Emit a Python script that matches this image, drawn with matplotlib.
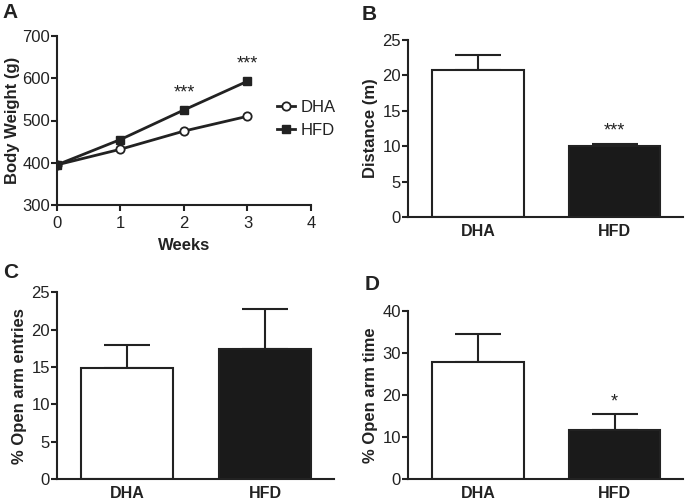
import matplotlib
matplotlib.use("Agg")
import matplotlib.pyplot as plt
import numpy as np

plt.rcParams['font.family'] = ['Liberation Sans', 'DejaVu Sans']

# Panel A data
weeks = [0, 1, 2, 3]
dha_weight = [395, 432, 475, 510]
hfd_weight = [395, 455, 525, 593]
sig_weeks = [2, 3]
sig_labels_a = ["***", "***"]

groups = ["DHA", "HFD"]
# Panel B
dist_mean = [20.7, 10.0]
dist_err = [2.2, 0.3]
dist_sig = ["", "***"]
# Panel C
entries_mean = [14.8, 17.4]
entries_err = [3.2, 5.4]
entries_sig = ["", ""]
# Panel D
time_mean = [27.9, 11.6]
time_err = [6.6, 3.8]
time_sig = ["", "*"]

LC = "#222222"
BARC = "#1a1a1a"
LW = 1.5

fig = plt.figure(figsize=(6.85, 5.0), dpi=100)

def style(ax):
    for s in ["top", "right"]:
        ax.spines[s].set_visible(False)
    for s in ["left", "bottom"]:
        ax.spines[s].set_linewidth(LW)
        ax.spines[s].set_color(LC)
    ax.tick_params(axis="both", direction="out", length=4, width=LW, color=LC,
                   labelsize=12, labelcolor=LC, pad=1)

# Panel A
axA = fig.add_axes([0.0832, 0.59, 0.3708, 0.338])
style(axA)
axA.plot(weeks, dha_weight, color=LC, lw=2, marker="o", mfc="white", mec=LC,
         mew=1.3, ms=6, label="DHA", zorder=3)
axA.plot(weeks, hfd_weight, color=LC, lw=2, marker="s", mfc=LC, mec=LC,
         ms=5.5, label="HFD", zorder=3)
axA.set_xlim(0, 4)
axA.set_ylim(300, 700)
axA.set_xticks([0, 1, 2, 3, 4])
axA.set_yticks([300, 400, 500, 600, 700])
axA.tick_params(axis="x", pad=4)
axA.set_xlabel("Weeks", fontsize=12, fontweight="bold", color=LC, labelpad=5)
axA.set_ylabel("Body Weight (g)", fontsize=12, fontweight="bold", color=LC, labelpad=2)
for w, lab in zip(sig_weeks, sig_labels_a):
    axA.annotate(lab, (w, hfd_weight[w]), xytext=(0, 6), textcoords="offset points",
                 ha="center", va="bottom", fontsize=13, color=LC)
leg = axA.legend(loc="center left", bbox_to_anchor=(0.84, 0.51), frameon=False,
                 handlelength=1.1, handletextpad=0.3, fontsize=12,
                 labelspacing=0.45, borderaxespad=0)
for t in leg.get_texts():
    t.set_color(LC)

def bar_panel(rect, means, errs, sigs, ymax, yticks, ylabel):
    ax = fig.add_axes(rect)
    style(ax)
    x = np.arange(len(groups))
    ax.bar(x, means, width=0.67, color=["white", BARC], edgecolor=LC,
           linewidth=LW, zorder=2)
    ax.errorbar(x, means, yerr=[[0] * len(errs), errs], fmt="none",
                ecolor=LC, elinewidth=LW, capsize=16.5, capthick=LW, zorder=1)
    for xi, m, e, s in zip(x, means, errs, sigs):
        if s:
            ax.annotate(s, (xi, m + e), xytext=(0, 3), textcoords="offset points",
                        ha="center", va="bottom", fontsize=13, color=LC)
    ax.set_xlim(-0.51, 1.5)
    ax.set_ylim(0, ymax)
    ax.set_yticks(yticks)
    ax.set_xticks(x)
    ax.set_xticklabels(groups, fontweight="bold", fontsize=11.5)
    ax.tick_params(axis="x", length=0, pad=5)
    ax.set_ylabel(ylabel, fontsize=12, fontweight="bold", color=LC, labelpad=3)
    return ax

bar_panel([0.5956, 0.566, 0.4014, 0.354], dist_mean, dist_err, dist_sig,
          25, [0, 5, 10, 15, 20, 25], "Distance (m)")
bar_panel([0.083, 0.042, 0.4046, 0.3734], entries_mean, entries_err, entries_sig,
          25, [0, 5, 10, 15, 20, 25], "% Open arm entries")
bar_panel([0.5956, 0.042, 0.4014, 0.3366], time_mean, time_err, time_sig,
          40, [0, 10, 20, 30, 40], "% Open arm time")

for lab, (x, y) in zip("ABCD", [(0.004, 0.976), (0.528, 0.97), (0.005, 0.455), (0.532, 0.43)]):
    fig.text(x, y, lab, fontsize=15, fontweight="bold", color=LC, ha="left", va="center")

fig.savefig("out.png", dpi=100)
